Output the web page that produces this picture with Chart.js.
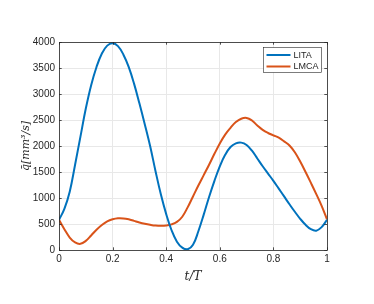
<!DOCTYPE html>
<html>
<head>
<meta charset="utf-8">
<script src="https://cdn.jsdelivr.net/npm/chart.js@4.4.0/dist/chart.umd.min.js"></script>
<style>
html,body{margin:0;padding:0;background:#fff;}
#wrap{width:374px;height:304px;}
</style>
</head>
<body>
<div id="wrap"><canvas id="c" width="374" height="304"></canvas></div>
<script>
const tValues = [0,0.02,0.04,0.06,0.08,0.10,0.12,0.14,0.16,0.18,0.20,0.22,0.24,0.26,0.28,0.30,0.32,0.34,0.36,0.38,0.40,0.42,0.44,0.46,0.48,0.50,0.52,0.54,0.56,0.58,0.60,0.62,0.64,0.66,0.68,0.70,0.72,0.74,0.76,0.78,0.80,0.82,0.84,0.86,0.88,0.90,0.92,0.94,0.96,0.98,1.00];
const litaValues = [580,790,1120,1640,2180,2720,3170,3520,3780,3930,3975,3920,3760,3520,3200,2820,2420,2000,1520,1070,690,380,160,45,15,100,360,680,1020,1330,1610,1830,1980,2050,2065,2020,1910,1760,1610,1470,1330,1180,1030,880,735,600,485,400,372,440,580];
const lmcaValues = [580,400,240,145,118,175,280,390,480,550,590,610,608,590,560,530,505,485,470,465,470,492,540,640,820,1030,1240,1440,1640,1850,2050,2220,2350,2460,2525,2540,2490,2395,2310,2250,2205,2160,2090,2010,1880,1700,1500,1290,1075,850,590];
const seriesLabels = ['LITA','LMCA'];
const xTicks = [0,0.2,0.4,0.6,0.8,1];
const yTicks = [0,500,1000,1500,2000,2500,3000,3500,4000];
const colors = ['#0072BD','#D95319'];
const textColor = '#262626';

const toPts = vals => tValues.map((t,i)=>({x:t,y:vals[i]}));

const boxPlugin = {
  id:'boxPlugin',
  afterDraw(chart){
    const ctx = chart.ctx, a = chart.chartArea;
    const xs = chart.scales.x, ys = chart.scales.y;
    ctx.save();
    ctx.strokeStyle = '#262626';
    ctx.lineWidth = 0.8;
    ctx.strokeRect(a.left+0.5, a.top+0.5, a.right-a.left, a.bottom-a.top);
    const tl = 2.7;
    ctx.beginPath();
    xTicks.forEach(v=>{const px=Math.round(xs.getPixelForValue(v))+0.5;
      ctx.moveTo(px,a.bottom);ctx.lineTo(px,a.bottom-tl);
      ctx.moveTo(px,a.top);ctx.lineTo(px,a.top+tl);});
    yTicks.forEach(v=>{const py=Math.round(ys.getPixelForValue(v))+0.5;
      ctx.moveTo(a.left,py);ctx.lineTo(a.left+tl,py);
      ctx.moveTo(a.right,py);ctx.lineTo(a.right-tl,py);});
    ctx.stroke();
    // legend
    const lx=263.5, ly=47.5, lw=58, lh=25;
    ctx.fillStyle='#fff';
    ctx.fillRect(lx,ly,lw,lh);
    ctx.strokeStyle='#262626';
    ctx.lineWidth=0.6;
    ctx.strokeRect(lx,ly,lw,lh);
    ctx.font='9px "Liberation Sans", Arial, sans-serif';
    ctx.textBaseline='middle';
    chart.data.datasets.forEach((ds,i)=>{
      const yy = ly + 7.5 + i*11.5;
      ctx.strokeStyle=ds.borderColor;
      ctx.lineWidth=2;
      ctx.beginPath();ctx.moveTo(lx+3,yy);ctx.lineTo(lx+27,yy);ctx.stroke();
      ctx.fillStyle=textColor;
      ctx.fillText(ds.label,lx+30,yy+0.5);
    });
    ctx.restore();
  }
};

new Chart(document.getElementById('c'),{
  type:'line',
  data:{datasets:[
    {label:seriesLabels[0],data:toPts(litaValues),borderColor:colors[0],borderWidth:2,pointRadius:0,fill:false,tension:0.4},
    {label:seriesLabels[1],data:toPts(lmcaValues),borderColor:colors[1],borderWidth:2,pointRadius:0,fill:false,tension:0.4}
  ]},
  options:{
    responsive:false,animation:false,
    layout:{padding:{left:0,top:42,right:47,bottom:0}},
    plugins:{legend:{display:false},tooltip:{enabled:false}},
    scales:{
      x:{type:'linear',min:0,max:1,
        afterFit:s=>{s.height=54;},
        afterBuildTicks:s=>{s.ticks=xTicks.map(v=>({value:v}));},
        ticks:{color:textColor,font:{family:'"Liberation Sans", Arial, sans-serif',size:10},padding:3,maxRotation:0,
          callback:v=>String(v)},
        grid:{color:'#e8e8e8',drawTicks:false,lineWidth:1},
        border:{display:false},
        title:{display:true,text:'t/T',color:textColor,font:{family:'"DejaVu Serif", serif',size:12,style:'italic'},padding:{top:0,bottom:20}}
      },
      y:{type:'linear',min:0,max:4000,
        afterFit:s=>{s.width=59;},
        afterBuildTicks:s=>{s.ticks=yTicks.map(v=>({value:v}));},
        ticks:{color:textColor,font:{family:'"Liberation Sans", Arial, sans-serif',size:10},padding:4,
          callback:v=>String(v)},
        grid:{color:'#e8e8e8',drawTicks:false,lineWidth:1},
        border:{display:false},
        title:{display:true,text:'q̄[mm³/s]',color:textColor,font:{family:'"DejaVu Serif", serif',size:11,style:'italic'},padding:{top:20,bottom:0}}
      }
    }
  },
  plugins:[boxPlugin]
});
</script>
</body>
</html>
